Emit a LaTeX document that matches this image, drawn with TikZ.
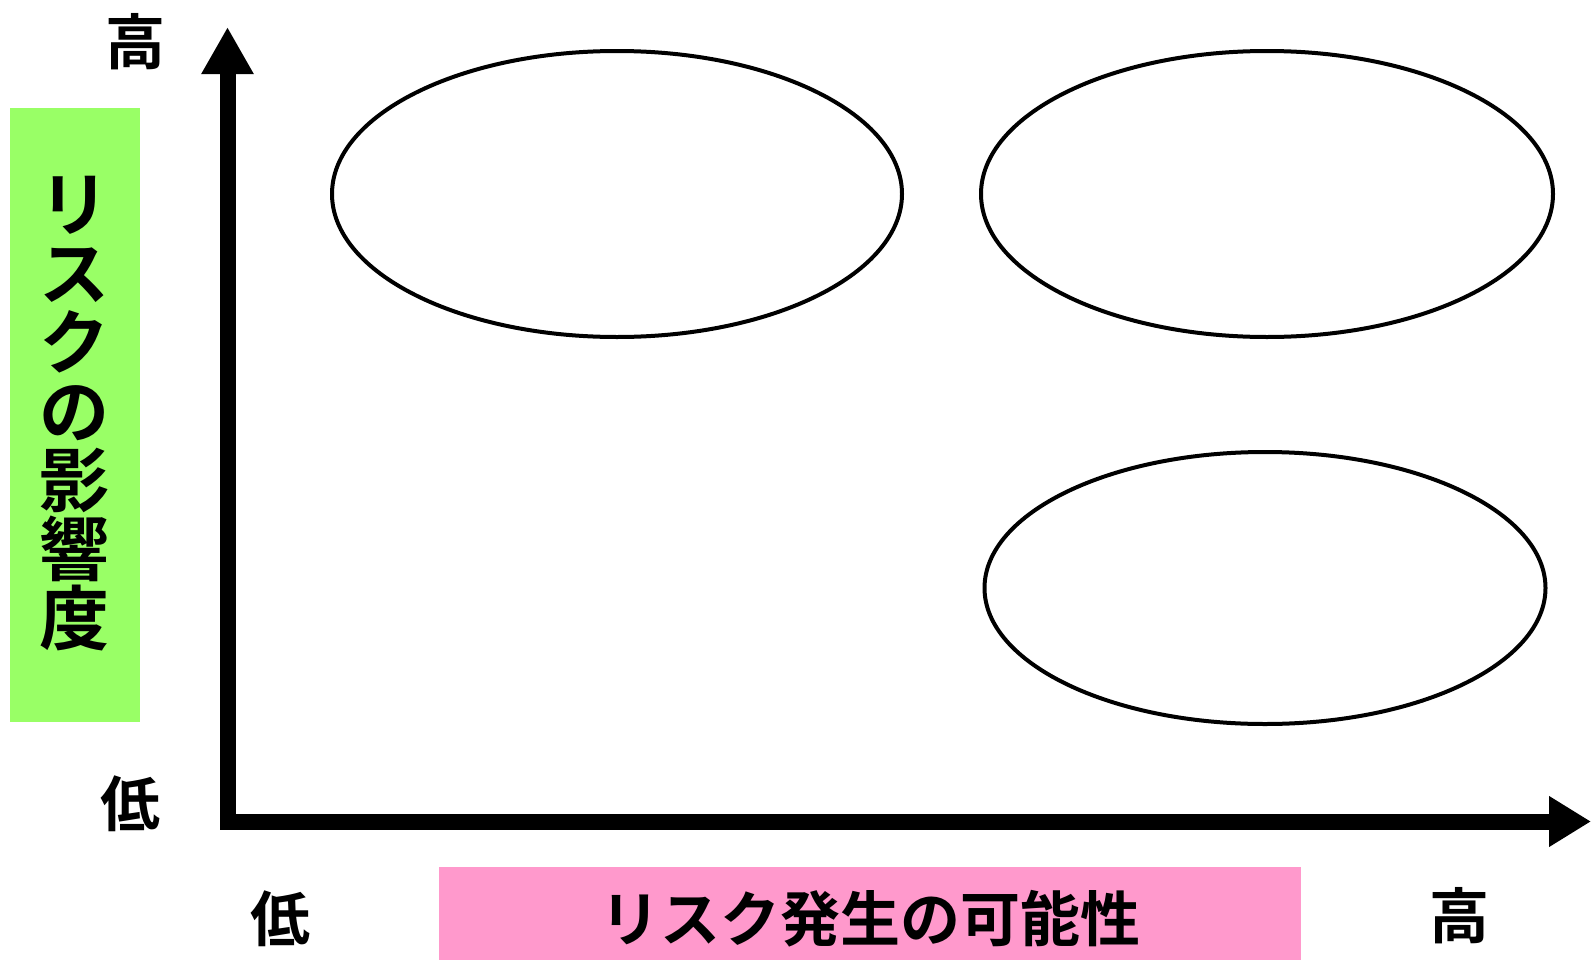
\documentclass[tikz,border=0pt]{standalone}
\usepackage{fontspec}
\newfontfamily\cjk{Noto Sans CJK JP}[BoldFont={Noto Sans CJK JP Bold}]
\usetikzlibrary{arrows.meta,shapes.geometric}
\definecolor{boxgreen}{RGB}{153,255,102}
\definecolor{boxpink}{RGB}{255,153,204}
\tikzset{
  bubble/.style={draw=black, line width=4pt, ellipse, inner sep=0pt},
  axis/.style={line width=16pt, line join=miter, line cap=butt,
    {Triangle[length=47pt,width=49pt]}-{Triangle[length=42pt,width=48pt]}},
  lvl/.style={font=\cjk\bfseries\fontsize{60}{60}\selectfont, inner sep=0pt},
  titlebox/.style={inner sep=0pt, draw=none},
}
\begin{document}
\begin{tikzpicture}[x=1pt,y=-1pt]
\useasboundingbox[fill=white] (0,0) rectangle (1591,961);
% axes
\coordinate (ytip) at (227.5,27);
\coordinate (corner) at (227.5,821.5);
\coordinate (xtip) at (1591,821.5);
\draw[axis] (ytip) -- (corner) -- (xtip);
% ellipses
\node[bubble, minimum width=570pt, minimum height=286pt] (e1) at (617,194) {};
\node[bubble, minimum width=572pt, minimum height=286pt] (e2) at (1267,194) {};
\node[bubble, minimum width=561pt, minimum height=272pt] (e3) at (1265,588) {};
% y-axis title box
\node[titlebox, fill=boxgreen, minimum width=130pt, minimum height=614pt] (ybox) at (75,415) {};
\node[inner sep=0pt, align=center, font=\cjk\bfseries\fontsize{70}{69}\selectfont] (ytitle) at (74,414) {リ\\ス\\ク\\の\\影\\響\\度};
% x-axis title box
\node[titlebox, fill=boxpink, minimum width=862pt, minimum height=93pt] (xbox) at (870,913.5) {};
\node[inner sep=0pt, font=\cjk\bfseries\fontsize{60}{60}\selectfont] (xtitle) at (870,919) {リスク発生の可能性};
% level labels
\node[lvl] (yhigh) at (135,41.5) {高};
\node[lvl] (ylow) at (130.5,804) {低};
\node[lvl] (xlow) at (280.5,918.5) {低};
\node[lvl] (xhigh) at (1459,916) {高};
\end{tikzpicture}
\end{document}
